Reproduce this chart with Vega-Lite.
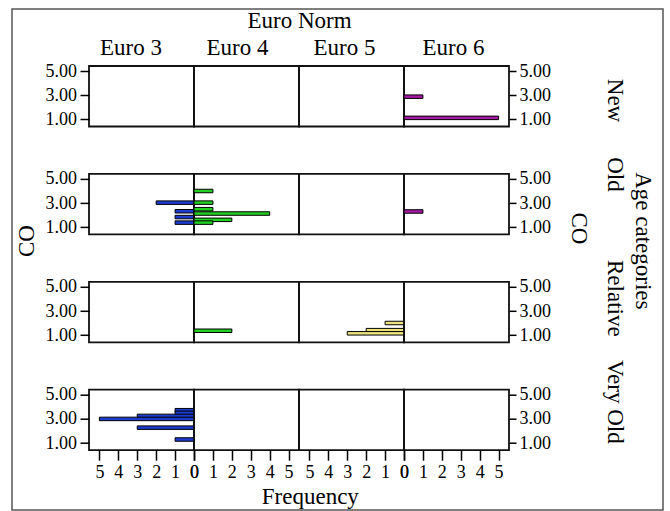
{
  "$schema": "https://vega.github.io/schema/vega-lite/v6.json",
  "padding": {"left": 14, "top": 8, "right": 12, "bottom": 0},
  "background": "white",
  "data": {
    "values": [
      {"age": "New", "euro": "Euro 6", "co": 2.88, "freq": 1},
      {"age": "New", "euro": "Euro 6", "co": 1.13, "freq": 5},
      {"age": "Old", "euro": "Euro 3", "co": 3.04, "freq": 2},
      {"age": "Old", "euro": "Euro 3", "co": 2.33, "freq": 1},
      {"age": "Old", "euro": "Euro 3", "co": 1.85, "freq": 1},
      {"age": "Old", "euro": "Euro 3", "co": 1.39, "freq": 1},
      {"age": "Old", "euro": "Euro 4", "co": 4.0, "freq": 1},
      {"age": "Old", "euro": "Euro 4", "co": 3.04, "freq": 1},
      {"age": "Old", "euro": "Euro 4", "co": 2.5, "freq": 1},
      {"age": "Old", "euro": "Euro 4", "co": 2.14, "freq": 4},
      {"age": "Old", "euro": "Euro 4", "co": 1.62, "freq": 2},
      {"age": "Old", "euro": "Euro 4", "co": 1.39, "freq": 1},
      {"age": "Old", "euro": "Euro 6", "co": 2.31, "freq": 1},
      {"age": "Relative", "euro": "Euro 4", "co": 1.37, "freq": 2},
      {"age": "Relative", "euro": "Euro 5", "co": 2.01, "freq": 1},
      {"age": "Relative", "euro": "Euro 5", "co": 1.42, "freq": 2},
      {"age": "Relative", "euro": "Euro 5", "co": 1.16, "freq": 3},
      {"age": "Very Old", "euro": "Euro 3", "co": 3.72, "freq": 1},
      {"age": "Very Old", "euro": "Euro 3", "co": 3.5, "freq": 1},
      {"age": "Very Old", "euro": "Euro 3", "co": 3.25, "freq": 3},
      {"age": "Very Old", "euro": "Euro 3", "co": 3.0, "freq": 5},
      {"age": "Very Old", "euro": "Euro 3", "co": 2.28, "freq": 3},
      {"age": "Very Old", "euro": "Euro 3", "co": 1.3, "freq": 1}
    ]
  },
  "columns": 4,
  "spacing": {"row": 46.9, "column": 0},
  "bounds": "flush",
  "concat": [
    {
      "width": 105, "height": 60.5,
      "transform": [{"filter": "datum.age === 'New' && datum.euro === 'Euro 3'"}],
      "layer": [
        {
          "mark": {"type": "bar", "orient": "horizontal", "size": 3.5, "color": "#1c3ccf", "stroke": "black", "strokeWidth": 1},
          "encoding": {
            "x": {"field": "freq", "type": "quantitative", "stack": null, "scale": {"domain": [0, 5.55], "nice": false, "reverse": true},
                  "axis": {"orient": "top", "labels": false, "ticks": false, "title": "Euro 3", "titleX": 41.5, "titleY": -19, "titleAlign": "center", "titleBaseline": "middle"}},
            "y": {"field": "co", "type": "quantitative", "scale": {"domain": [0.83, 5], "nice": false, "zero": false},
                  "axis": {"orient": "left", "values": [1, 3, 5], "format": ".2f", "tickSize": 9, "labelPadding": 3.5, "title": null}}
          }
        },
        {
          "mark": {"type": "point", "filled": false, "color": "#555555", "strokeWidth": 1.5},
          "encoding": {
            "shape": {"datum": "border", "scale": {"range": ["M-1.2994,-1H1.2994V1H-1.2994Z"]},
                      "legend": {"orient": "none", "legendX": -3, "legendY": -58, "title": null, "labelExpr": "''", "labelFontSize": 1, "labelOffset": 0,
                                 "padding": 0, "symbolOffset": 0, "symbolSize": 251001, "symbolStrokeWidth": 1.5, "symbolStrokeColor": "#555555", "symbolFillColor": "transparent", "symbolOpacity": 1}}
          }
        }
      ]
    },
    {
      "width": 105, "height": 60.5,
      "transform": [{"filter": "datum.age === 'New' && datum.euro === 'Euro 4'"}],
      "mark": {"type": "bar", "orient": "horizontal", "size": 3.5, "color": "#22d022", "stroke": "black", "strokeWidth": 1},
      "encoding": {
        "x": {"field": "freq", "type": "quantitative", "stack": null, "scale": {"domain": [0, 5.55], "nice": false},
              "axis": {"orient": "top", "labels": false, "ticks": false, "title": "Euro 4", "titleX": 43, "titleY": -19, "titleAlign": "center", "titleBaseline": "middle"}},
        "y": {"field": "co", "type": "quantitative", "scale": {"domain": [0.83, 5], "nice": false, "zero": false},
              "axis": {"orient": "left", "labels": false, "ticks": false, "values": [], "title": "Euro Norm", "titleAngle": 0, "titleX": 105, "titleY": -46, "titleAlign": "center", "titleBaseline": "middle"}}
      }
    },
    {
      "width": 105, "height": 60.5,
      "transform": [{"filter": "datum.age === 'New' && datum.euro === 'Euro 5'"}],
      "mark": {"type": "bar", "orient": "horizontal", "size": 3.5, "color": "#ebe27c", "stroke": "black", "strokeWidth": 1},
      "encoding": {
        "x": {"field": "freq", "type": "quantitative", "stack": null, "scale": {"domain": [0, 5.55], "nice": false, "reverse": true},
              "axis": {"orient": "top", "labels": false, "ticks": false, "title": "Euro 5", "titleX": 45, "titleY": -19, "titleAlign": "center", "titleBaseline": "middle"}},
        "y": {"field": "co", "type": "quantitative", "scale": {"domain": [0.83, 5], "nice": false, "zero": false}, "axis": null}
      }
    },
    {
      "width": 105, "height": 60.5,
      "transform": [{"filter": "datum.age === 'New' && datum.euro === 'Euro 6'"}],
      "mark": {"type": "bar", "orient": "horizontal", "size": 3.5, "color": "#a41aa4", "stroke": "black", "strokeWidth": 1},
      "encoding": {
        "x": {"field": "freq", "type": "quantitative", "stack": null, "scale": {"domain": [0, 5.55], "nice": false},
              "axis": {"orient": "top", "labels": false, "ticks": false, "title": "Euro 6", "titleX": 49, "titleY": -19, "titleAlign": "center", "titleBaseline": "middle"}},
        "y": {"field": "co", "type": "quantitative", "scale": {"domain": [0.83, 5], "nice": false, "zero": false},
              "axis": {"orient": "right", "values": [1, 3, 5], "format": ".2f", "tickSize": 7, "labelPadding": 3, "title": "New", "titleAngle": 90, "titleX": 105, "titleY": 34, "titleAlign": "center", "titleBaseline": "middle"}}
      }
    },
    {
      "width": 105, "height": 60.5,
      "transform": [{"filter": "datum.age === 'Old' && datum.euro === 'Euro 3'"}],
      "mark": {"type": "bar", "orient": "horizontal", "size": 3.5, "color": "#1c3ccf", "stroke": "black", "strokeWidth": 1},
      "encoding": {
        "x": {"field": "freq", "type": "quantitative", "stack": null, "scale": {"domain": [0, 5.55], "nice": false, "reverse": true}, "axis": null},
        "y": {"field": "co", "type": "quantitative", "scale": {"domain": [0.83, 5], "nice": false, "zero": false},
              "axis": {"orient": "left", "values": [1, 3, 5], "format": ".2f", "tickSize": 9, "labelPadding": 3.5, "title": "CO", "titleAngle": -90, "titleX": -62.5, "titleY": 66.7, "titleAlign": "center", "titleBaseline": "middle"}}
      }
    },
    {
      "width": 105, "height": 60.5,
      "transform": [{"filter": "datum.age === 'Old' && datum.euro === 'Euro 4'"}],
      "mark": {"type": "bar", "orient": "horizontal", "size": 3.5, "color": "#22d022", "stroke": "black", "strokeWidth": 1},
      "encoding": {
        "x": {"field": "freq", "type": "quantitative", "stack": null, "scale": {"domain": [0, 5.55], "nice": false}, "axis": null},
        "y": {"field": "co", "type": "quantitative", "scale": {"domain": [0.83, 5], "nice": false, "zero": false}, "axis": null}
      }
    },
    {
      "width": 105, "height": 60.5,
      "transform": [{"filter": "datum.age === 'Old' && datum.euro === 'Euro 5'"}],
      "mark": {"type": "bar", "orient": "horizontal", "size": 3.5, "color": "#ebe27c", "stroke": "black", "strokeWidth": 1},
      "encoding": {
        "x": {"field": "freq", "type": "quantitative", "stack": null, "scale": {"domain": [0, 5.55], "nice": false, "reverse": true}, "axis": null},
        "y": {"field": "co", "type": "quantitative", "scale": {"domain": [0.83, 5], "nice": false, "zero": false}, "axis": null}
      }
    },
    {
      "width": 105, "height": 60.5,
      "transform": [{"filter": "datum.age === 'Old' && datum.euro === 'Euro 6'"}],
      "mark": {"type": "bar", "orient": "horizontal", "size": 3.5, "color": "#a41aa4", "stroke": "black", "strokeWidth": 1},
      "encoding": {
        "x": {"field": "freq", "type": "quantitative", "stack": null, "scale": {"domain": [0, 5.55], "nice": false},
              "axis": {"orient": "top", "labels": false, "ticks": false, "title": "CO", "titleAngle": 90, "titleX": 174.5, "titleY": 54, "titleAlign": "center", "titleBaseline": "middle"}},
        "y": {"field": "co", "type": "quantitative", "scale": {"domain": [0.83, 5], "nice": false, "zero": false},
              "axis": {"orient": "right", "values": [1, 3, 5], "format": ".2f", "tickSize": 7, "labelPadding": 3, "title": "Old", "titleAngle": 90, "titleX": 105, "titleY": 0, "titleAlign": "center", "titleBaseline": "middle"}}
      }
    },
    {
      "width": 105, "height": 60.5,
      "transform": [{"filter": "datum.age === 'Relative' && datum.euro === 'Euro 3'"}],
      "mark": {"type": "bar", "orient": "horizontal", "size": 3.5, "color": "#1c3ccf", "stroke": "black", "strokeWidth": 1},
      "encoding": {
        "x": {"field": "freq", "type": "quantitative", "stack": null, "scale": {"domain": [0, 5.55], "nice": false, "reverse": true}, "axis": null},
        "y": {"field": "co", "type": "quantitative", "scale": {"domain": [0.83, 5], "nice": false, "zero": false},
              "axis": {"orient": "left", "values": [1, 3, 5], "format": ".2f", "tickSize": 9, "labelPadding": 3.5, "title": null}}
      }
    },
    {
      "width": 105, "height": 60.5,
      "transform": [{"filter": "datum.age === 'Relative' && datum.euro === 'Euro 4'"}],
      "mark": {"type": "bar", "orient": "horizontal", "size": 3.5, "color": "#22d022", "stroke": "black", "strokeWidth": 1},
      "encoding": {
        "x": {"field": "freq", "type": "quantitative", "stack": null, "scale": {"domain": [0, 5.55], "nice": false}, "axis": null},
        "y": {"field": "co", "type": "quantitative", "scale": {"domain": [0.83, 5], "nice": false, "zero": false}, "axis": null}
      }
    },
    {
      "width": 105, "height": 60.5,
      "transform": [{"filter": "datum.age === 'Relative' && datum.euro === 'Euro 5'"}],
      "mark": {"type": "bar", "orient": "horizontal", "size": 3.5, "color": "#ebe27c", "stroke": "black", "strokeWidth": 1},
      "encoding": {
        "x": {"field": "freq", "type": "quantitative", "stack": null, "scale": {"domain": [0, 5.55], "nice": false, "reverse": true}, "axis": null},
        "y": {"field": "co", "type": "quantitative", "scale": {"domain": [0.83, 5], "nice": false, "zero": false}, "axis": null}
      }
    },
    {
      "width": 105, "height": 60.5,
      "transform": [{"filter": "datum.age === 'Relative' && datum.euro === 'Euro 6'"}],
      "mark": {"type": "bar", "orient": "horizontal", "size": 3.5, "color": "#a41aa4", "stroke": "black", "strokeWidth": 1},
      "encoding": {
        "x": {"field": "freq", "type": "quantitative", "stack": null, "scale": {"domain": [0, 5.55], "nice": false},
              "axis": {"orient": "top", "labels": false, "ticks": false, "title": "Age categories", "titleAngle": 90, "titleX": 238.5, "titleY": -41.5, "titleAlign": "center", "titleBaseline": "middle"}},
        "y": {"field": "co", "type": "quantitative", "scale": {"domain": [0.83, 5], "nice": false, "zero": false},
              "axis": {"orient": "right", "values": [1, 3, 5], "format": ".2f", "tickSize": 7, "labelPadding": 3, "title": "Relative", "titleAngle": 90, "titleX": 105, "titleY": 16, "titleAlign": "center", "titleBaseline": "middle"}}
      }
    },
    {
      "width": 105, "height": 60.5,
      "transform": [{"filter": "datum.age === 'Very Old' && datum.euro === 'Euro 3'"}],
      "mark": {"type": "bar", "orient": "horizontal", "size": 3.5, "color": "#1c3ccf", "stroke": "black", "strokeWidth": 1},
      "encoding": {
        "x": {"field": "freq", "type": "quantitative", "stack": null, "scale": {"domain": [0, 5.55], "nice": false, "reverse": true},
              "axis": {"values": [0, 1, 2, 3, 4, 5], "format": "d", "tickSize": 10, "labelPadding": 3, "title": null}},
        "y": {"field": "co", "type": "quantitative", "scale": {"domain": [0.83, 5], "nice": false, "zero": false},
              "axis": {"orient": "left", "values": [1, 3, 5], "format": ".2f", "tickSize": 9, "labelPadding": 3.5, "title": null}}
      }
    },
    {
      "width": 105, "height": 60.5,
      "transform": [{"filter": "datum.age === 'Very Old' && datum.euro === 'Euro 4'"}],
      "mark": {"type": "bar", "orient": "horizontal", "size": 3.5, "color": "#22d022", "stroke": "black", "strokeWidth": 1},
      "encoding": {
        "x": {"field": "freq", "type": "quantitative", "stack": null, "scale": {"domain": [0, 5.55], "nice": false},
              "axis": {"values": [0, 1, 2, 3, 4, 5], "format": "d", "tickSize": 10, "labelPadding": 3, "title": "Frequency", "titleX": 115.8, "titleY": 46, "titleAlign": "center", "titleBaseline": "middle"}},
        "y": {"field": "co", "type": "quantitative", "scale": {"domain": [0.83, 5], "nice": false, "zero": false}, "axis": null}
      }
    },
    {
      "width": 105, "height": 60.5,
      "transform": [{"filter": "datum.age === 'Very Old' && datum.euro === 'Euro 5'"}],
      "mark": {"type": "bar", "orient": "horizontal", "size": 3.5, "color": "#ebe27c", "stroke": "black", "strokeWidth": 1},
      "encoding": {
        "x": {"field": "freq", "type": "quantitative", "stack": null, "scale": {"domain": [0, 5.55], "nice": false, "reverse": true},
              "axis": {"values": [0, 1, 2, 3, 4, 5], "format": "d", "tickSize": 10, "labelPadding": 3, "title": null}},
        "y": {"field": "co", "type": "quantitative", "scale": {"domain": [0.83, 5], "nice": false, "zero": false}, "axis": null}
      }
    },
    {
      "width": 105, "height": 60.5,
      "transform": [{"filter": "datum.age === 'Very Old' && datum.euro === 'Euro 6'"}],
      "mark": {"type": "bar", "orient": "horizontal", "size": 3.5, "color": "#a41aa4", "stroke": "black", "strokeWidth": 1},
      "encoding": {
        "x": {"field": "freq", "type": "quantitative", "stack": null, "scale": {"domain": [0, 5.55], "nice": false},
              "axis": {"values": [0, 1, 2, 3, 4, 5], "format": "d", "tickSize": 10, "labelPadding": 3, "title": null}},
        "y": {"field": "co", "type": "quantitative", "scale": {"domain": [0.83, 5], "nice": false, "zero": false},
              "axis": {"orient": "right", "values": [1, 3, 5], "format": ".2f", "tickSize": 7, "labelPadding": 3, "title": "Very Old", "titleAngle": 90, "titleX": 105, "titleY": 11.7, "titleAlign": "center", "titleBaseline": "middle"}}
      }
    }
  ],
  "config": {
    "font": "Liberation Serif",
    "view": {"stroke": "#111111", "strokeWidth": 1.8},
    "axis": {
      "domain": false,
      "grid": false,
      "labelFlush": false,
      "labelFont": "Liberation Serif",
      "labelFontSize": 18,
      "labelColor": "black",
      "tickColor": "black",
      "tickWidth": 1.5,
      "titleFont": "Liberation Serif",
      "titleFontSize": 23,
      "titleFontWeight": "normal",
      "titleColor": "black"
    }
  }
}
